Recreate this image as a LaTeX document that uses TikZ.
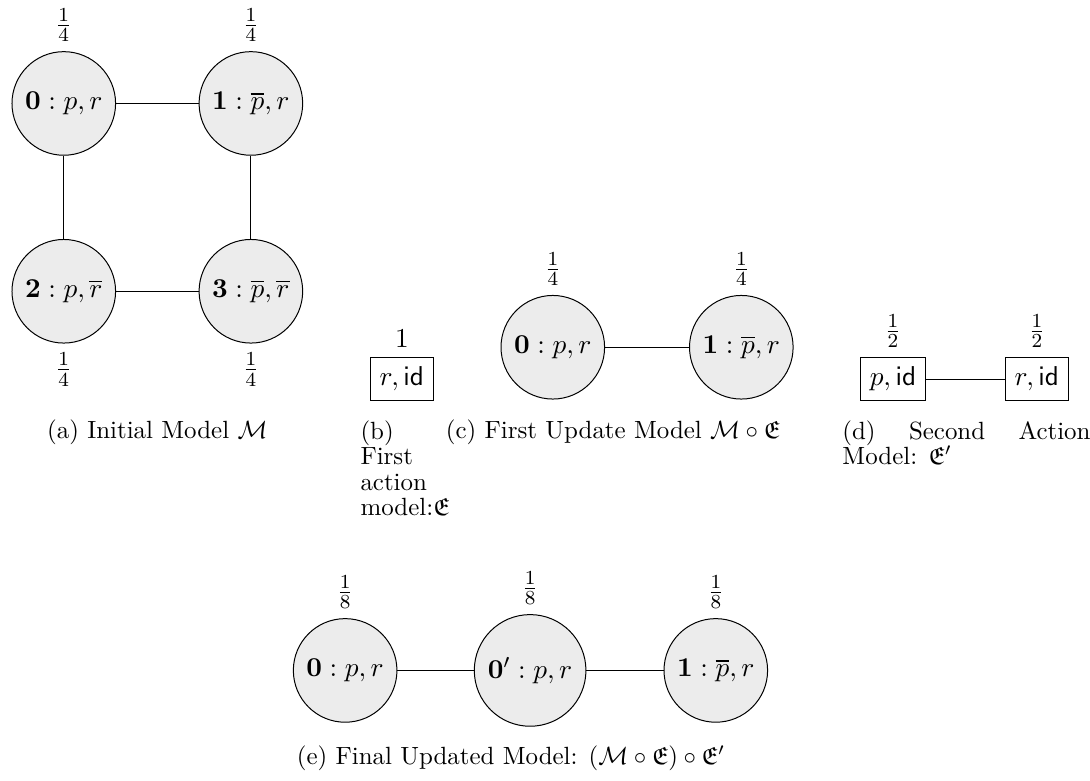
\documentclass[11pt,tikz,border=0pt]{standalone}
\usepackage{amsmath}
\usepackage{amssymb}
\usepackage{tikz}

\begin{document}
\begin{tikzpicture}[world/.style={circle, draw, fill=gray!15}, act/.style={draw, rectangle},
  subcap/.style={font=\fontsize{10}{10.2}\selectfont}]
  \useasboundingbox (0,0) rectangle (15.38,11.01);
  % (a) initial model
  \node[world, label={above:$\frac{1}{4}$}] (a0) at (0.90,9.55) {$\mathbf{0}: p, r$};
  \node[world, label={above:$\frac{1}{4}$}] (a1) at (3.54,9.55) {$\mathbf{1}: \overline{p}, r$};
  \node[world, label={below:$\frac{1}{4}$}] (a2) at (0.90,6.90) {$\mathbf{2}: p, \overline{r}$};
  \node[world, label={below:$\frac{1}{4}$}] (a3) at (3.54,6.90) {$\mathbf{3}: \overline{p}, \overline{r}$};
  \draw (a0) -- (a1);
  \draw (a0) -- (a2);
  \draw (a1) -- (a3);
  \draw (a2) -- (a3);
  \node[subcap] (capa) at (2.22,4.91) {(a) Initial Model $\mathcal{M}$};
  % (b) first action model
  \node[act, label={above:$1$}] (b0) at (5.67,5.66) {$r, \mathsf{id}$};
  \node[subcap, anchor=north west, align=left, inner sep=0pt] (capb) at (5.08,5.08) {(b)\\First\\action\\model:$\mathfrak{E}$};
  % (c) first update
  \node[world, label={above:$\frac{1}{4}$}] (c0) at (7.80,6.11) {$\mathbf{0}: p, r$};
  \node[world, label={above:$\frac{1}{4}$}] (c1) at (10.46,6.11) {$\mathbf{1}: \overline{p}, r$};
  \draw (c0) -- (c1);
  \node[subcap] (capc) at (8.65,4.91) {(c) First Update Model $\mathcal{M} \circ \mathfrak{E}$};
  % (d) second action model
  \node[act, label={above:$\frac{1}{2}$}] (d0) at (12.60,5.66) {$p, \mathsf{id}$};
  \node[act, label={above:$\frac{1}{2}$}] (d1) at (14.63,5.66) {$r, \mathsf{id}$};
  \draw (d0) -- (d1);
  \node[subcap, anchor=north west, text width=3.50cm, align=justify, inner sep=0pt] (capd) at (11.88,5.08) {(d) Second Action Model: $\mathfrak{E}'$};
  % (e) final model
  \node[world, label={above:$\frac{1}{8}$}] (e0) at (4.87,1.55) {$\mathbf{0}: p, r$};
  \node[world, label={above:$\frac{1}{8}$}] (e1) at (7.48,1.55) {$\mathbf{0}': p, r$};
  \node[world, label={above:$\frac{1}{8}$}] (e2) at (10.10,1.55) {$\mathbf{1}: \overline{p}, r$};
  \draw (e0) -- (e1);
  \draw (e1) -- (e2);
  \node[subcap] (cape) at (7.21,0.31) {(e) Final Updated Model: $(\mathcal{M} \circ \mathfrak{E}) \circ \mathfrak{E}'$};
\end{tikzpicture}
\end{document}
